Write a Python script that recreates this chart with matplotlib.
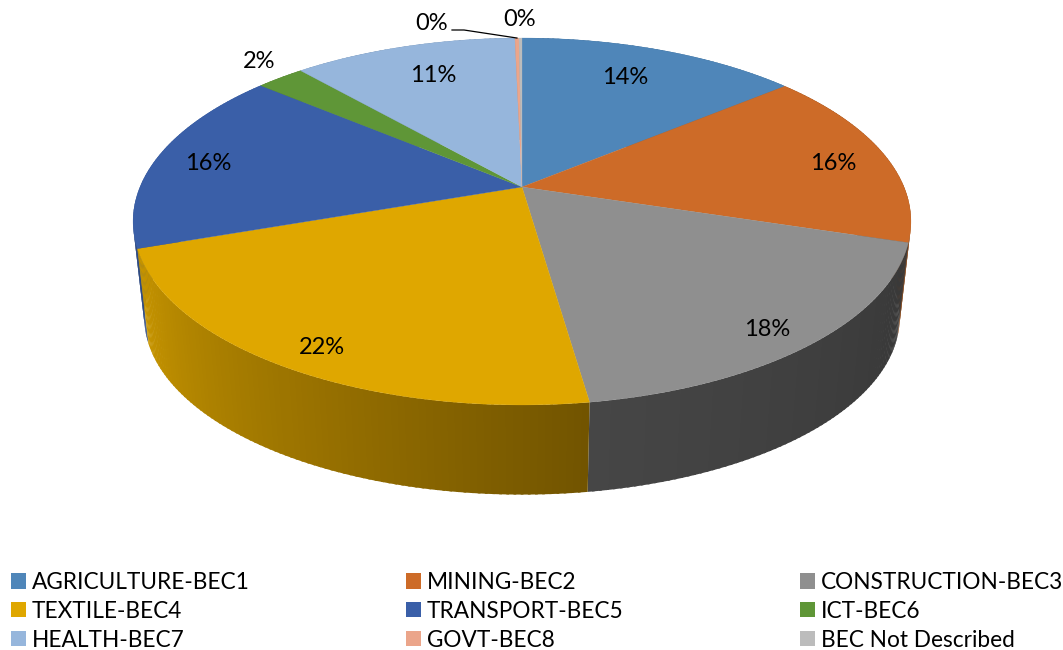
import numpy as np
import matplotlib
matplotlib.use("Agg")
import matplotlib.pyplot as plt
from matplotlib.patches import Patch
from matplotlib.colors import to_rgb

# ---- data ----
categories = ["AGRICULTURE-BEC1", "MINING-BEC2", "CONSTRUCTION-BEC3", "TEXTILE-BEC4",
              "TRANSPORT-BEC5", "ICT-BEC6", "HEALTH-BEC7", "GOVT-BEC8", "BEC Not Described"]
shares = [0.140, 0.158, 0.179, 0.220, 0.164, 0.024, 0.1115, 0.002, 0.0015]

# ---- style ----
top_colors = ["#4f86b9", "#cd6b28", "#8f8f8f", "#dfa700", "#3a5fa8",
              "#5f9637", "#96b6dc", "#eba58a", "#bcbcbc"]
wall_left = ["#3a6488", "#8a4a1c", "#464646", "#c89600", "#34558f",
             "#466f28", "#6f88a5", "#b07c68", "#8c8c8c"]
wall_right = ["#3a6488", "#6a3a16", "#383838", "#725400", "#2c4880",
              "#466f28", "#6f88a5", "#b07c68", "#8c8c8c"]
FONT = "Lato"
FS = 17
LEGEND_FS = 16.3
label_xy = [(625, 78), (833, 164), (767, 330), (322, 347), (208, 164),
            (259, 61), (433, 75), (432, 23), (520, 20)]

# perspective projection of the pie disc
CX = 522
K = 0.188
TOP = dict(a=382, b=177, y0=187)
BOT = dict(a=371, b=171, y0=284)


def project(theta, r, p):
    X = r * np.sin(theta)
    Y = r * np.cos(theta)
    w = 1 + K * Y
    return CX + p["a"] * X / w, p["y0"] - p["b"] * Y / w


fig = plt.figure(figsize=(10.63, 6.5), dpi=100)
ax = fig.add_axes([0, 0, 1, 1])
ax.set_xlim(0, 1063)
ax.set_ylim(650, 0)
ax.axis("off")

edges = 2 * np.pi * np.concatenate([[0], np.cumsum(shares)])
edges = edges / edges[-1] * 2 * np.pi

# side wall, back to front, with each strip overlapping the next
quads = []
for i in range(len(shares)):
    n = max(3, int(shares[i] * 400))
    t = np.linspace(edges[i], edges[i + 1], n + 1)
    cl, cr = np.array(to_rgb(wall_left[i])), np.array(to_rgb(wall_right[i]))
    for j in range(n):
        mid = 0.5 * (t[j] + t[j + 1])
        f = 1 - (j + 0.5) / n  # clockwise on the front runs right-to-left
        c = cl * (1 - f) + cr * f
        th = np.array([t[j], min(t[j + 1] + 0.006, edges[i + 1])])
        x1, y1 = project(th, 1, TOP)
        x2, y2 = project(th[::-1], 1, BOT)
        quads.append((np.cos(mid), np.r_[x1, x2], np.r_[y1, y2], c))
for _, x, y, c in sorted(quads, key=lambda q: -q[0]):
    ax.fill(x, y, facecolor=c, edgecolor="none", lw=0, zorder=1)

# top face
for i in range(len(shares)):
    t = np.linspace(edges[i], edges[i + 1], 120)
    x, y = project(t, 1, TOP)
    ax.fill(np.r_[CX, x], np.r_[TOP["y0"], y], color=top_colors[i], lw=0.2, zorder=2)

# data labels
for v, (lx, ly) in zip(shares, label_xy):
    ax.text(lx, ly, f"{v * 100:.0f}%", ha="center", va="center", family=FONT,
            fontsize=FS, color="black", zorder=4)

# leader line to the GOVT slice
mid_govt = 0.5 * (edges[7] + edges[8])
ex, ey = project(mid_govt, 1, TOP)
ax.plot([452, 464, ex], [30, 30, ey], color="black", lw=0.9, zorder=3)

# legend, one block per column
col_anchor = [0.0038, 0.3753, 0.7463]
for c in range(3):
    idx = [c, c + 3, c + 6]
    handles = [Patch(facecolor=top_colors[i], edgecolor="none") for i in idx]
    fig.legend(handles, [categories[i] for i in idx], loc="lower left",
               bbox_to_anchor=(col_anchor[c], -0.0115), frameon=False,
               prop=dict(family=FONT, size=LEGEND_FS), handlelength=0.66, handleheight=0.66,
               handletextpad=0.27, labelspacing=0.35, borderpad=0.3, borderaxespad=0)

fig.savefig("out.png", dpi=100)
